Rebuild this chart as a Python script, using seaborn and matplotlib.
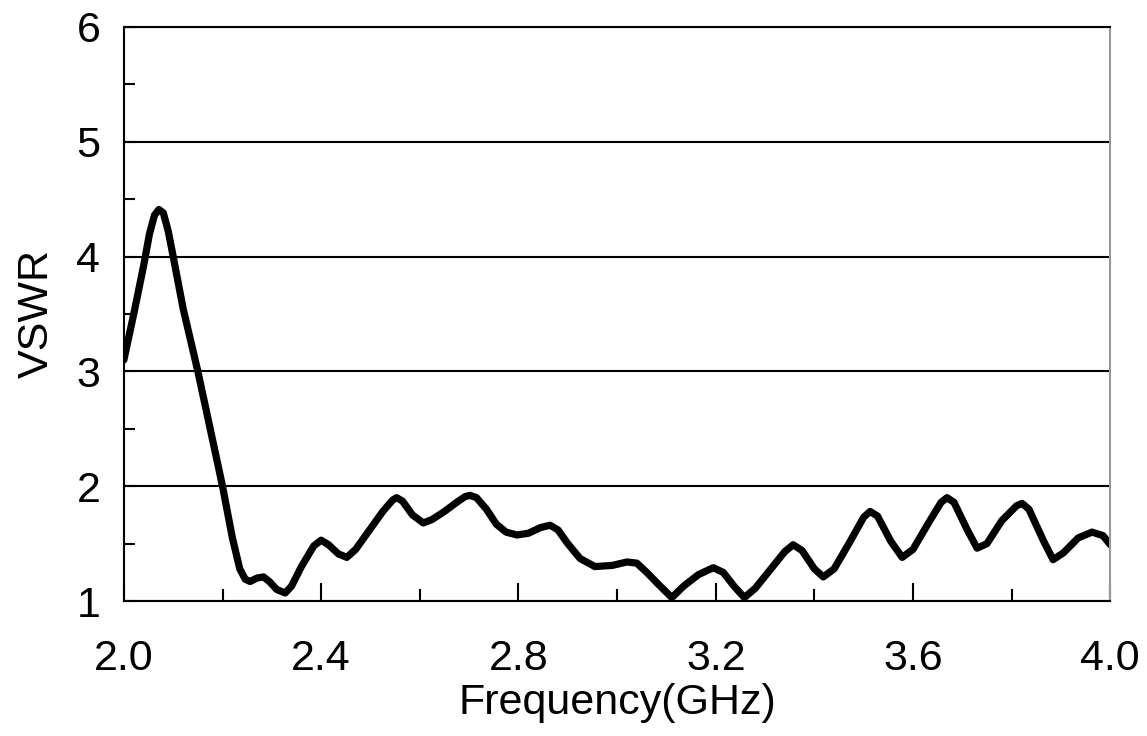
import numpy as np
import pandas as pd
import matplotlib
matplotlib.use('Agg')
import matplotlib.pyplot as plt
import seaborn as sns
from matplotlib.ticker import MultipleLocator, FormatStrFormatter

# 주파수(GHz) / VSWR 값 - 그림에서 읽은 값
freq = [2.000, 2.020, 2.040, 2.052, 2.062, 2.071, 2.080, 2.090, 2.100, 2.120,
        2.150, 2.175, 2.200, 2.220, 2.235, 2.246, 2.256, 2.270, 2.283, 2.295,
        2.310, 2.327, 2.340, 2.360, 2.385, 2.400, 2.415, 2.435, 2.452, 2.470,
        2.495, 2.525, 2.545, 2.553, 2.565, 2.585, 2.607, 2.625, 2.650, 2.675,
        2.692, 2.702, 2.715, 2.735, 2.755, 2.775, 2.797, 2.820, 2.845, 2.864,
        2.880, 2.900, 2.925, 2.955, 2.990, 3.020, 3.040, 3.060, 3.085, 3.111,
        3.135, 3.165, 3.195, 3.215, 3.237, 3.258, 3.280, 3.310, 3.340, 3.357,
        3.375, 3.400, 3.418, 3.440, 3.470, 3.500, 3.513, 3.528, 3.555, 3.578,
        3.600, 3.630, 3.657, 3.669, 3.683, 3.710, 3.730, 3.750, 3.780, 3.810,
        3.821, 3.835, 3.865, 3.884, 3.905, 3.935, 3.963, 3.985, 4.000]
vswr = [3.10, 3.50, 3.92, 4.20, 4.36, 4.41, 4.38, 4.22, 4.00, 3.55,
        3.00, 2.50, 2.00, 1.55, 1.28, 1.19, 1.17, 1.20, 1.21, 1.17,
        1.10, 1.07, 1.13, 1.30, 1.48, 1.53, 1.49, 1.41, 1.38, 1.45,
        1.60, 1.78, 1.88, 1.90, 1.87, 1.75, 1.68, 1.71, 1.78, 1.86,
        1.91, 1.92, 1.90, 1.80, 1.67, 1.60, 1.575, 1.59, 1.64, 1.66,
        1.62, 1.50, 1.37, 1.30, 1.31, 1.34, 1.33, 1.25, 1.14, 1.03,
        1.13, 1.23, 1.29, 1.25, 1.13, 1.03, 1.11, 1.27, 1.43, 1.49,
        1.44, 1.28, 1.21, 1.28, 1.50, 1.73, 1.78, 1.74, 1.52, 1.38,
        1.45, 1.67, 1.86, 1.90, 1.86, 1.62, 1.46, 1.50, 1.70, 1.83,
        1.85, 1.80, 1.52, 1.36, 1.42, 1.55, 1.60, 1.57, 1.49]

df = pd.DataFrame({'freq': freq, 'vswr': vswr})

sns.set_style('white')
plt.rcParams['font.family'] = ['Liberation Sans', 'DejaVu Sans']
plt.rcParams['text.color'] = 'black'
plt.rcParams['axes.labelcolor'] = 'black'
plt.rcParams['xtick.color'] = 'black'
plt.rcParams['ytick.color'] = 'black'

fig = plt.figure(figsize=(11.47, 7.36), dpi=100)
ax = fig.add_axes([0.108, 0.1834, 0.860, 0.780])

sns.lineplot(data=df, x='freq', y='vswr', ax=ax, color='black', lw=5.2)
for ln in ax.get_lines():
    ln.set_solid_joinstyle('round')
    ln.set_solid_capstyle('round')

ax.set_xlim(2.0, 4.0)
ax.set_ylim(1, 6)

# 눈금
ax.xaxis.set_major_locator(MultipleLocator(0.4))
ax.xaxis.set_minor_locator(MultipleLocator(0.2))
ax.xaxis.set_major_formatter(FormatStrFormatter('%.1f'))
ax.yaxis.set_major_locator(MultipleLocator(1))
ax.yaxis.set_minor_locator(MultipleLocator(0.5))
ax.tick_params(axis='x', which='major', direction='in', length=13, width=1.5,
               labelsize=31, pad=27)
ax.tick_params(axis='x', which='minor', direction='in', length=8.5, width=1.5)
ax.tick_params(axis='y', which='both', direction='in', length=8, width=1.5,
               labelsize=31, pad=17)
ax.tick_params(bottom=True, left=True, which='both')

ax.grid(axis='y', which='major', color='black', lw=1.5)
for s in ['left', 'bottom', 'top']:
    ax.spines[s].set_color('black')
    ax.spines[s].set_linewidth(1.5)
ax.spines['right'].set_color('#999999')
ax.spines['right'].set_linewidth(1.5)

ax.set_xlabel('Frequency(GHz)', fontsize=31, labelpad=3)
ax.set_ylabel('VSWR', fontsize=31, labelpad=14)

plt.savefig('out.png', dpi=100)
plt.close()
